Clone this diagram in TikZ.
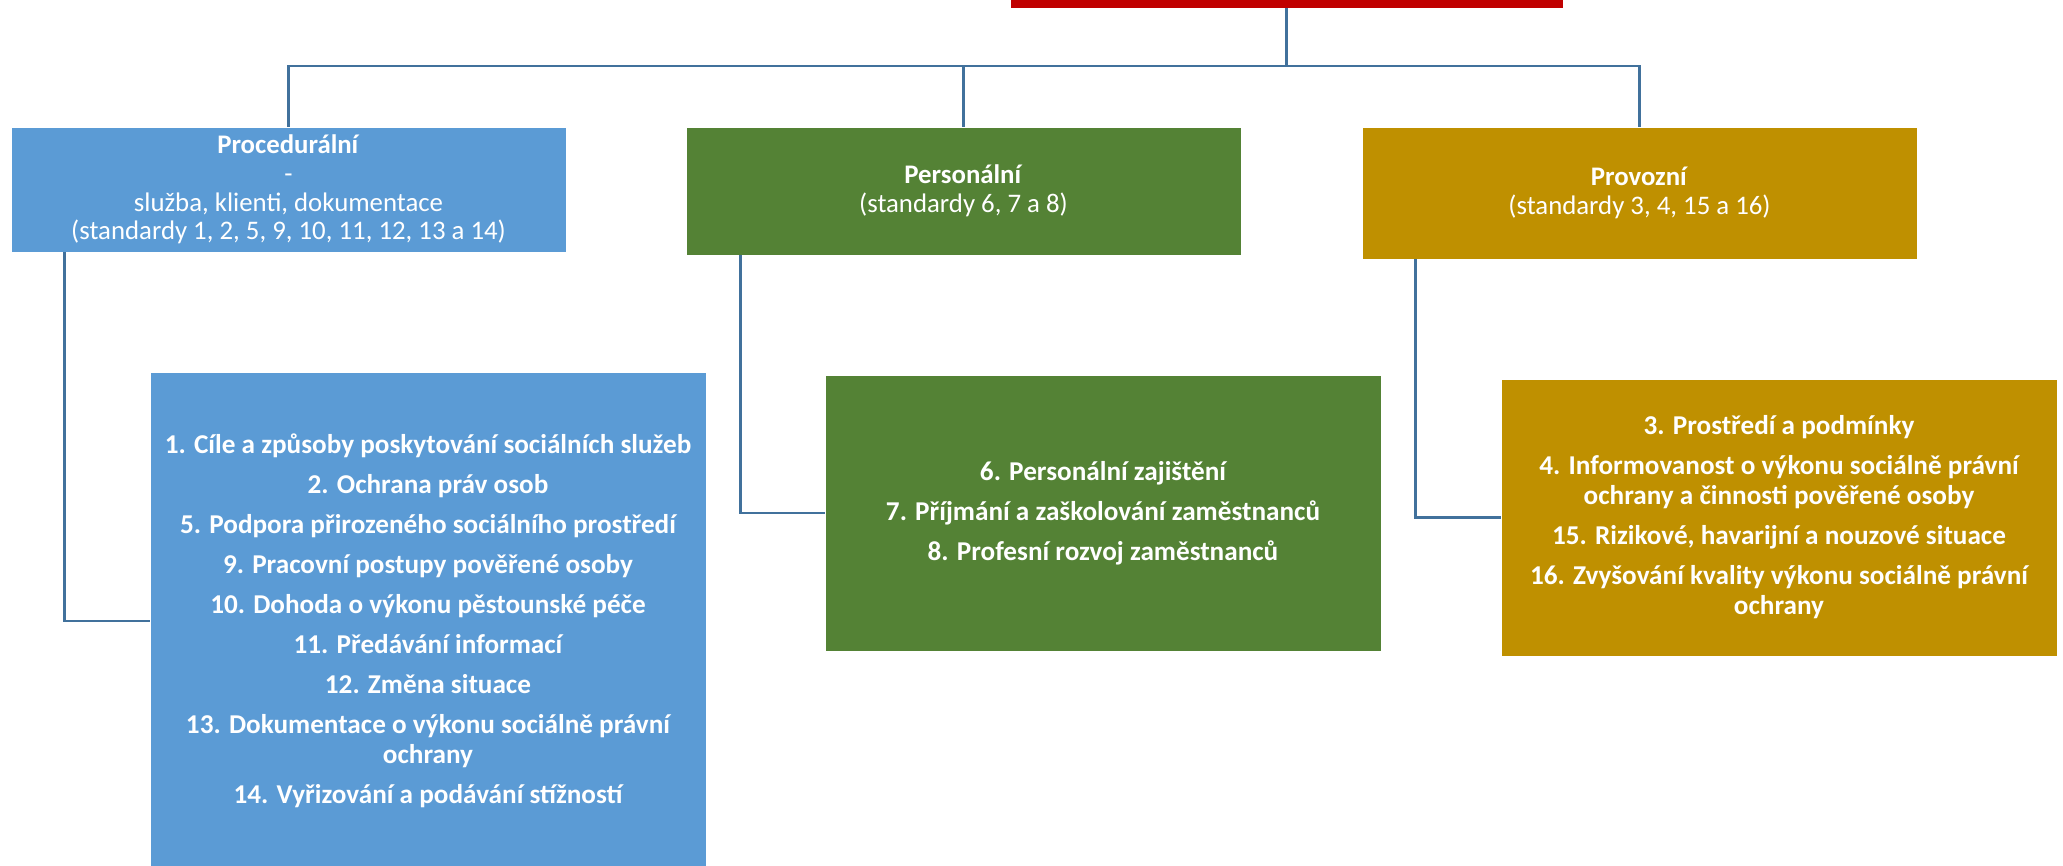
\documentclass[tikz,border=0pt]{standalone}
\usepackage{fontspec}
\setmainfont{Carlito}
\usetikzlibrary{positioning}
\definecolor{procblue}{HTML}{5B9BD5}
\definecolor{persgreen}{HTML}{548235}
\definecolor{provgold}{HTML}{BF9000}
\definecolor{rootred}{HTML}{C00000}
\definecolor{linkblue}{HTML}{41719C}

\begin{document}
\begin{tikzpicture}[x=0.5pt,y=-0.5pt,
	box/.style={draw=white, line width=0.4pt, text=white, align=center, inner sep=0pt},
	headbox/.style={box, font=\fontsize{13.4}{14.35}\selectfont},
	listbox/.style={box, font=\fontsize{13.6}{15}\selectfont\bfseries},
	link/.style={draw=linkblue, line width=1.3pt}]
	
	\useasboundingbox (0,0) rectangle (2063,866);
	\clip (0,0) rectangle (2063,866);
	
	% top box, cut off by the page
	\node[box, fill=rootred, minimum width=276.5pt, minimum height=28pt] (root) at (1286.5,-20) {};
	
	\node[headbox, fill=procblue, minimum width=277.5pt, minimum height=62.5pt] (proc) at (288.5,189.5)
		{\textbf{Procedurální}\\-\\služba, klienti, dokumentace\\(standardy 1, 2, 5, 9, 10, 11, 12, 13 a 14)};
	\node[headbox, fill=persgreen, minimum width=277.5pt, minimum height=64pt] (pers) at (963.5,191)
		{\textbf{Personální}\\(standardy 6, 7 a 8)};
	\node[headbox, fill=provgold, minimum width=277.5pt, minimum height=66pt] (prov) at (1639.5,193)
		{\textbf{Provozní}\\(standardy 3, 4, 15 a 16)};
	
	\node[listbox, fill=procblue, minimum width=278pt, minimum height=249pt] (procdet) at (428,621)
		{1. Cíle a způsoby poskytování sociálních služeb\\[5pt]
		2. Ochrana práv osob\\[5pt]
		5. Podpora přirozeného sociálního prostředí\\[5pt]
		9. Pracovní postupy pověřené osoby\\[5pt]
		10. Dohoda o výkonu pěstounské péče\\[5pt]
		11. Předávání informací\\[5pt]
		12. Změna situace\\[5pt]
		13. Dokumentace o výkonu sociálně právní\\ochrany\\[5pt]
		14. Vyřizování a podávání stížností};
	\node[listbox, fill=persgreen, minimum width=278pt, minimum height=138pt] (persdet) at (1103,513)
		{6. Personální zajištění\\[5pt]
		7. Příjmání a zaškolování zaměstnanců\\[5pt]
		8. Profesní rozvoj zaměstnanců};
	\node[listbox, fill=provgold, minimum width=278pt, minimum height=138.5pt] (provdet) at (1779,517.5)
		{3. Prostředí a podmínky\\[5pt]
		4. Informovanost o výkonu sociálně právní\\ochrany a činnosti pověřené osoby\\[5pt]
		15. Rizikové, havarijní a nouzové situace\\[5pt]
		16. Zvyšování kvality výkonu sociálně právní\\ochrany};
	
	% connectors
	\coordinate (bus) at (0,66);
	\draw[link] (root.south) -- (root.south |- bus) -| (proc.north);
	\draw[link] (root.south |- bus) -| (pers.north);
	\draw[link] (root.south |- bus) -| (prov.north);
	
	\draw[link] ([xshift=27pt]proc.south west) |- (procdet.west);
	\draw[link] ([xshift=27.5pt]pers.south west) |- (persdet.west);
	\draw[link] ([xshift=27pt]prov.south west) |- (provdet.west);
	
\end{tikzpicture}
\end{document}
